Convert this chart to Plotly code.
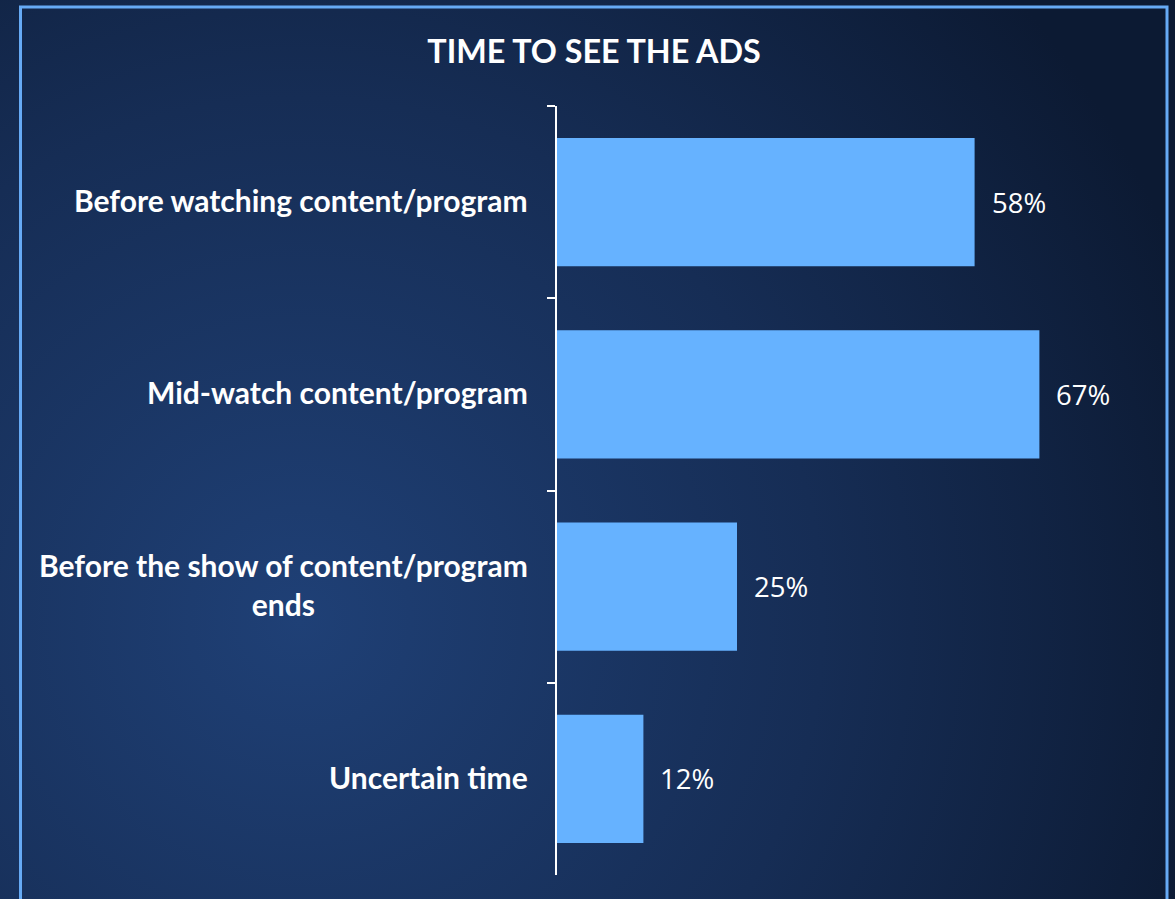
import base64
import plotly.graph_objects as go

# Survey data
categories = [
    "Before watching content/program",
    "Mid-watch content/program",
    "Before the show of content/program<br>ends",
    "Uncertain time",
]
shares = [58, 67, 25, 12]
value_labels = ["58%", "67%", "25%", "12%"]
title_text = "TIME TO SEE THE ADS"

# Canvas geometry
W, H = 1175, 899
M_L, M_R, M_T, M_B = 557, 42, 106, 24
PW, PH = W - M_L - M_R, H - M_T - M_B


def px_x(x):
    return (x - M_L) / PW


def px_y(y):
    return (H - M_B - y) / PH


# Radial navy background as an SVG image
svg = (
    f'<svg xmlns="http://www.w3.org/2000/svg" width="{W}" height="{H}">'
    '<defs><radialGradient id="g" cx="300" cy="620" r="950" gradientUnits="userSpaceOnUse">'
    '<stop offset="0" stop-color="#1f4076"/>'
    '<stop offset="0.55" stop-color="#162d55"/>'
    '<stop offset="1" stop-color="#0c1a33"/>'
    '</radialGradient></defs>'
    f'<rect width="{W}" height="{H}" fill="url(#g)"/></svg>'
)
bg_src = "data:image/svg+xml;base64," + base64.b64encode(svg.encode()).decode()

fig = go.Figure()
fig.add_trace(
    go.Bar(
        x=shares,
        y=categories,
        orientation="h",
        marker=dict(color="#66b2ff", line=dict(width=0)),
        hoverinfo="skip",
    )
)

annotations = []
for cat, val, lab in zip(categories, shares, value_labels):
    annotations.append(
        dict(
            x=val, y=cat, xref="x", yref="y", text=lab, showarrow=False,
            xanchor="left", yanchor="middle", xshift=15,
            font=dict(family="Open Sans", size=27.5, color="#ffffff"),
        )
    )
    annotations.append(
        dict(
            x=0, y=cat, xref="paper", yref="y", text=f"<b>{cat}</b>", showarrow=False,
            xanchor="right", yanchor="middle", xshift=-27, yshift=2, align="center",
            font=dict(family="Lato", size=30, color="#ffffff"),
        )
    )

fig.update_layout(
    width=W,
    height=H,
    margin=dict(l=M_L, r=M_R, t=M_T, b=M_B),
    paper_bgcolor="#142a50",
    plot_bgcolor="rgba(0,0,0,0)",
    showlegend=False,
    bargap=0.334,
    title=dict(
        text=f"<b>{title_text}</b>",
        x=594 / W, xanchor="center", y=1 - 52 / H, yanchor="middle",
        font=dict(family="Lato", size=32.3, color="#ffffff"),
    ),
    xaxis=dict(visible=False, range=[0, 80], fixedrange=True),
    yaxis=dict(
        type="category",
        autorange="reversed",
        showticklabels=False,
        showgrid=False,
        zeroline=False,
        showline=True,
        linecolor="#ffffff",
        linewidth=2,
        ticks="outside",
        tickson="boundaries",
        ticklen=8,
        tickwidth=2,
        tickcolor="#ffffff",
    ),
    annotations=annotations,
    images=[
        dict(
            source=bg_src, xref="paper", yref="paper",
            x=px_x(0), y=px_y(0), sizex=W / PW, sizey=H / PH,
            sizing="stretch", xanchor="left", yanchor="top", layer="below",
        )
    ],
    shapes=[
        dict(
            type="rect", xref="paper", yref="paper",
            x0=px_x(20.5), x1=px_x(1167), y0=px_y(7), y1=px_y(H + 10),
            line=dict(color="#66aaf5", width=3), fillcolor="rgba(0,0,0,0)",
            layer="above",
        )
    ],
)

fig.write_html("out.html")
